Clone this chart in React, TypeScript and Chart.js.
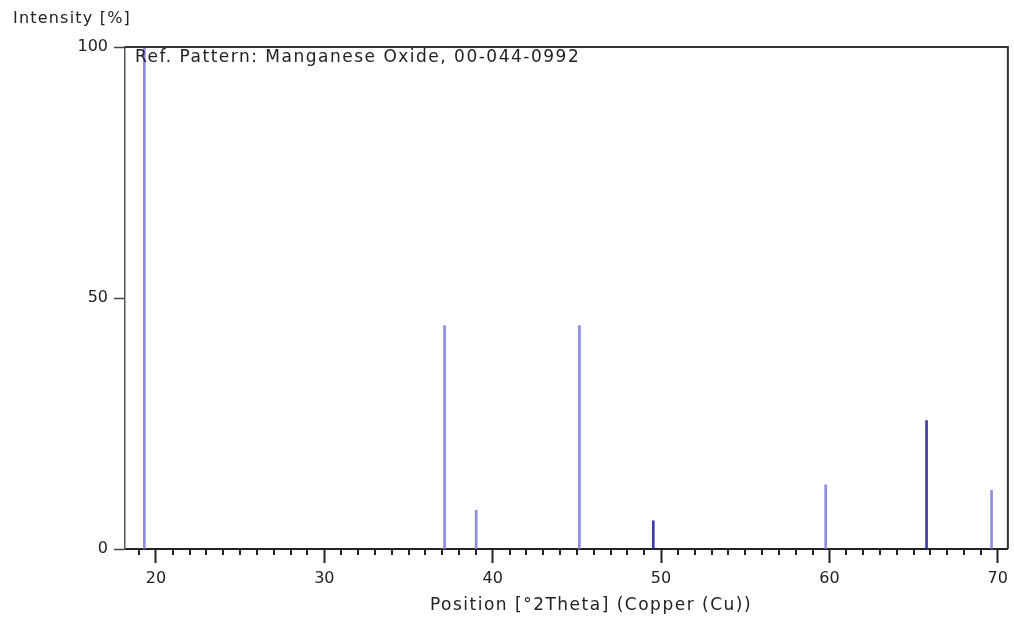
import React, { useEffect, useRef } from "react";
import { Chart, registerables } from "chart.js";

Chart.register(...registerables);

// ---- data ----
const PEAK_POSITIONS = [19.31, 37.14, 39.02, 45.15, 49.54, 59.78, 65.77, 69.63];
const PEAK_INTENSITIES = [100, 44.5, 7.7, 44.5, 5.6, 12.8, 25.6, 11.7];
const X_TICKS = [20, 30, 40, 50, 60, 70];
const Y_TICKS = [0, 50, 100];
const X_TITLE = "Position [°2Theta] (Copper (Cu))";
const Y_TITLE = "Intensity [%]";
const PATTERN_LABEL = "Ref. Pattern: Manganese Oxide, 00-044-0992";

// ---- style ----
const LIGHT = "#8c8ce0";
const DARK = "#3a3aa8";
const PEAK_SHADES = [LIGHT, LIGHT, LIGHT, LIGHT, DARK, LIGHT, DARK, LIGHT];
const FONT = "'DejaVu Sans', Verdana, sans-serif";

const decorPlugin = {
  id: "decor",
  afterDraw(chart: any) {
    const { ctx, chartArea, scales } = chart;
    const xs = scales.x;
    ctx.save();
    // top and right frame
    ctx.strokeStyle = "#333";
    ctx.lineWidth = 2;
    ctx.beginPath();
    ctx.moveTo(chartArea.left, chartArea.top);
    ctx.lineTo(chartArea.right, chartArea.top);
    ctx.lineTo(chartArea.right, chartArea.bottom);
    ctx.stroke();
    // minor ticks
    ctx.strokeStyle = "#222";
    ctx.lineWidth = 2;
    for (let v = Math.ceil(xs.min); v <= Math.floor(xs.max); v++) {
      if (v % 10 === 0) continue;
      const px = Math.round(xs.getPixelForValue(v));
      ctx.beginPath();
      ctx.moveTo(px, chartArea.bottom);
      ctx.lineTo(px, chartArea.bottom + 6);
      ctx.stroke();
    }
    // texts
    ctx.fillStyle = "#222";
    ctx.textBaseline = "middle";
    ctx.textAlign = "left";
    (ctx as any).letterSpacing = "1.2px";
    ctx.font = `16px ${FONT}`;
    ctx.fillText(Y_TITLE, 13, 19);
    (ctx as any).letterSpacing = "1.5px";
    ctx.font = `17px ${FONT}`;
    ctx.fillText(PATTERN_LABEL, 135, 58);
    ctx.textAlign = "center";
    (ctx as any).letterSpacing = "1.5px";
    ctx.font = `17px ${FONT}`;
    ctx.fillText(X_TITLE, 591, 606);
    ctx.restore();
  },
};

export default function App() {
  const ref = useRef<HTMLCanvasElement | null>(null);
  useEffect(() => {
    if (!ref.current) return;
    const chart = new Chart(ref.current, {
      type: "bar",
      data: {
        datasets: [
          {
            data: PEAK_POSITIONS.map((x, i) => ({ x, y: PEAK_INTENSITIES[i] })),
            backgroundColor: PEAK_SHADES,
            barThickness: 2,
            borderWidth: 0,
          },
        ],
      },
      options: {
        animation: false,
        responsive: false,
        devicePixelRatio: 1,
        layout: { padding: { top: 47, right: 5, left: 0, bottom: 0 } },
        plugins: { legend: { display: false }, tooltip: { enabled: false } },
        scales: {
          x: {
            type: "linear",
            min: 18.16,
            max: 70.6,
            offset: false,
            afterFit: (s: any) => {
              s.height = 71;
            },
            afterBuildTicks: (s: any) => {
              s.ticks = X_TICKS.map((v) => ({ value: v }));
            },
            ticks: {
              includeBounds: false,
              color: "#222",
              font: { family: FONT, size: 16 },
              padding: 6,
              maxRotation: 0,
              autoSkip: false,
            },
            grid: {
              offset: false,
              drawOnChartArea: false,
              drawTicks: true,
              tickLength: 14,
              tickWidth: 2,
              tickColor: "#222",
            },
            border: { display: true, color: "#222", width: 2 },
          },
          y: {
            min: 0,
            max: 100,
            afterFit: (s: any) => {
              s.width = 125;
            },
            afterBuildTicks: (s: any) => {
              s.ticks = Y_TICKS.map((v) => ({ value: v }));
            },
            ticks: {
              color: "#222",
              font: { family: FONT, size: 16 },
              padding: 6,
            },
            grid: {
              drawOnChartArea: false,
              drawTicks: true,
              tickLength: 11,
              tickWidth: 1.5,
              tickColor: "#444",
            },
            border: { display: true, color: "#555", width: 1.5 },
          },
        },
      },
      plugins: [decorPlugin],
    } as any);
    return () => chart.destroy();
  }, []);
  return (
    <div style={{ position: "fixed", left: 0, top: 0, width: 1014, height: 620, background: "#fff" }}>
      <canvas ref={ref} width={1014} height={620} style={{ display: "block" }} />
    </div>
  );
}
